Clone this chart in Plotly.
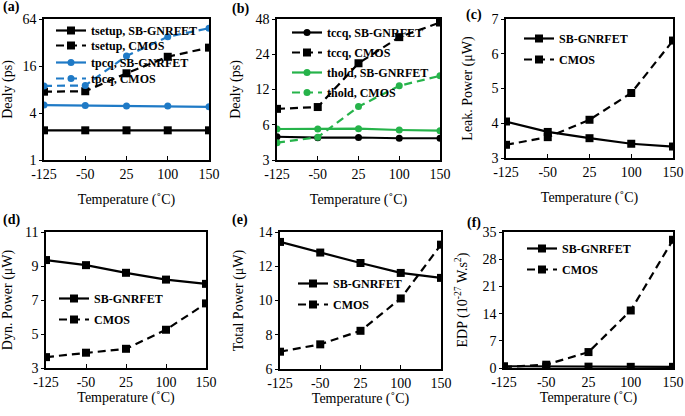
import plotly.graph_objects as go

temps = ["-125", "-50", "25", "100", "150"]

# (a) delay (ps)
a_tsetup_sb = [2.4, 2.4, 2.4, 2.4, 2.4]
a_tsetup_cmos = [7.5, 7.6, 12.9, 21.0, 27.5]
a_tpcq_sb = [5.05, 5.0, 4.9, 4.9, 4.8]
a_tpcq_cmos = [8.9, 9.0, 21.5, 37.9, 48.7]

# (b) delay (ps)
b_tccq_sb = [4.74, 4.65, 4.67, 4.6, 4.6]
b_tccq_cmos = [8.2, 8.5, 20.1, 33.6, 44.8]
b_thold_sb = [5.52, 5.52, 5.55, 5.41, 5.34]
b_thold_cmos = [4.22, 4.69, 8.57, 12.9, 15.7]

# (c) leakage power (uW)
c_sb = [4.05, 3.75, 3.57, 3.41, 3.33]
c_cmos = [3.38, 3.60, 4.10, 4.87, 6.38]

# (d) dynamic power (uW)
d_sb = [9.35, 9.05, 8.6, 8.2, 7.95]
d_cmos = [3.64, 3.9, 4.13, 5.25, 6.8]

# (e) total power (uW)
e_sb = [13.42, 12.80, 12.19, 11.61, 11.32]
e_cmos = [7.01, 7.44, 8.23, 10.12, 13.26]

# (f) EDP
f_sb = [0.45, 0.4, 0.35, 0.3, 0.3]
f_cmos = [0.25, 0.85, 4.1, 14.8, 33.0]

W, H = 685, 416
BLUE = "#1f7ac6"
GREEN = "#26b34a"
FONT = "Liberation Serif"
DASH = "8px,5px"

fig = go.Figure()

panels = [
    dict(x0=44, x1=209, y0=19, y1=160, title="Dealy (ps)", lab="(a)", lx=11, ly=7, so=12, xso=14),
    dict(x0=277, x1=440, y0=19, y1=160, title="Dealy (ps)", lab="(b)", lx=240, ly=9, so=12, xso=14),
    dict(x0=506, x1=673, y0=19, y1=158, title="Leak. Power (μW)", lab="(c)", lx=474, ly=15, so=16, xso=14),
    dict(x0=46, x1=206, y0=232, y1=368, title="Dyn. Power (μW)", lab="(d)", lx=11, ly=220, so=16, xso=3),
    dict(x0=280, x1=441, y0=232, y1=369, title="Total Power (μW)", lab="(e)", lx=240, ly=220, so=12, xso=3),
    dict(x0=504, x1=673, y0=232, y1=368, title="EDP (10<sup>-27</sup> W.s<sup>2</sup>)", lab="(f)", lx=474, ly=223, so=12, xso=3),
]

# panel idx, name, y, color, dash, symbol, legend text-start x, legend item centre y (pixels)
series = [
    (0, "tsetup, SB-GNRFET", a_tsetup_sb, "black", "solid", "square", 93, 28),
    (0, "tsetup, CMOS", a_tsetup_cmos, "black", DASH, "square", 93, 43),
    (0, "tpcq, SB-GNRFET", a_tpcq_sb, BLUE, "solid", "circle", 93, 60),
    (0, "tpcq, CMOS", a_tpcq_cmos, BLUE, DASH, "circle", 93, 76),
    (1, "tccq, SB-GNRFET", b_tccq_sb, "black", "solid", "circle", 329, 30),
    (1, "tccq, CMOS", b_tccq_cmos, "black", DASH, "square", 329, 50),
    (1, "thold, SB-GNRFET", b_thold_sb, GREEN, "solid", "circle", 329, 70),
    (1, "thold, CMOS", b_thold_cmos, GREEN, DASH, "circle", 329, 90),
    (2, "SB-GNRFET", c_sb, "black", "solid", "square", 561, 36),
    (2, "CMOS", c_cmos, "black", DASH, "square", 561, 57),
    (3, "SB-GNRFET", d_sb, "black", "solid", "square", 96, 296),
    (3, "CMOS", d_cmos, "black", DASH, "square", 96, 317),
    (4, "SB-GNRFET", e_sb, "black", "solid", "square", 335, 281),
    (4, "CMOS", e_cmos, "black", DASH, "square", 335, 302),
    (5, "SB-GNRFET", f_sb, "black", "solid", "square", 564, 246),
    (5, "CMOS", f_cmos, "black", DASH, "square", 564, 267),
]

layout = dict(
    width=W, height=H, margin=dict(l=0, r=0, t=0, b=0, autoexpand=False),
    plot_bgcolor="white", paper_bgcolor="white", showlegend=True,
    font=dict(family=FONT, size=13, color="black"),
    annotations=[],
)

for k, (p, name, y, col, dash, sym, tx, cy) in enumerate(series):
    sfx = "" if p == 0 else str(p + 1)
    lsfx = "" if k == 0 else str(k + 1)
    fig.add_trace(go.Scatter(
        x=temps, y=y, name=name, mode="lines+markers", showlegend=True,
        line=dict(color=col, width=2.2, dash=dash),
        marker=dict(color=col, symbol=sym, size=8 if sym == "square" else 7),
        xaxis="x" + sfx, yaxis="y" + sfx, legend="legend" + lsfx,
    ))
    layout["legend" + lsfx] = dict(
        x=(tx - 42) / W, y=1 - (cy - 12) / H, xanchor="left", yanchor="top",
        bgcolor="rgba(0,0,0,0)", borderwidth=0, visible=True,
        font=dict(family=FONT, size=12, color="black", weight="bold"),
        itemwidth=30,
    )

yaxes_cfg = [
    dict(type="log", range=[0, 1.80618], tickvals=[1, 4, 16, 64]),
    dict(type="log", range=[0.47712, 1.68124], tickvals=[3, 6, 12, 24, 48]),
    dict(range=[3, 7], tick0=3, dtick=1),
    dict(range=[3, 11], tick0=3, dtick=2),
    dict(range=[6, 14], tick0=6, dtick=2),
    dict(range=[0, 35], tick0=0, dtick=7),
]

for i, pn in enumerate(panels):
    sfx = "" if i == 0 else str(i + 1)
    xd = [pn["x0"] / W, pn["x1"] / W]
    yd = [1 - pn["y1"] / H, 1 - pn["y0"] / H]
    layout["xaxis" + sfx] = dict(
        domain=xd, anchor="y" + sfx, type="category", automargin=False,
        range=[0, 4], showline=True, linecolor="black", linewidth=1.5,
        mirror=True, ticks="inside", ticklen=4, tickcolor="black",
        showgrid=False, zeroline=False,
        tickfont=dict(family=FONT, size=14),
        title=dict(text="Temperature (˚C)", font=dict(family=FONT, size=14), standoff=pn["xso"]),
    )
    ya = dict(
        domain=yd, anchor="x" + sfx, automargin=False, showline=True,
        linecolor="black", linewidth=1.5, mirror=True, ticks="outside",
        ticklen=3, tickcolor="black", showgrid=False, zeroline=False,
        tickfont=dict(family=FONT, size=14),
        title=dict(text=pn["title"], font=dict(family=FONT, size=14), standoff=pn["so"]),
    )
    ya.update(yaxes_cfg[i])
    layout["yaxis" + sfx] = ya
    layout["annotations"].append(dict(
        text="<b>" + pn["lab"] + "</b>", xref="paper", yref="paper",
        x=pn["lx"] / W, y=1 - pn["ly"] / H,
        xanchor="center", yanchor="middle", showarrow=False,
        font=dict(family=FONT, size=14, color="black"),
    ))

fig.update_layout(**layout)
fig.write_html("out.html", config={"displayModeBar": False},
               post_script="document.body.style.margin='0';")
